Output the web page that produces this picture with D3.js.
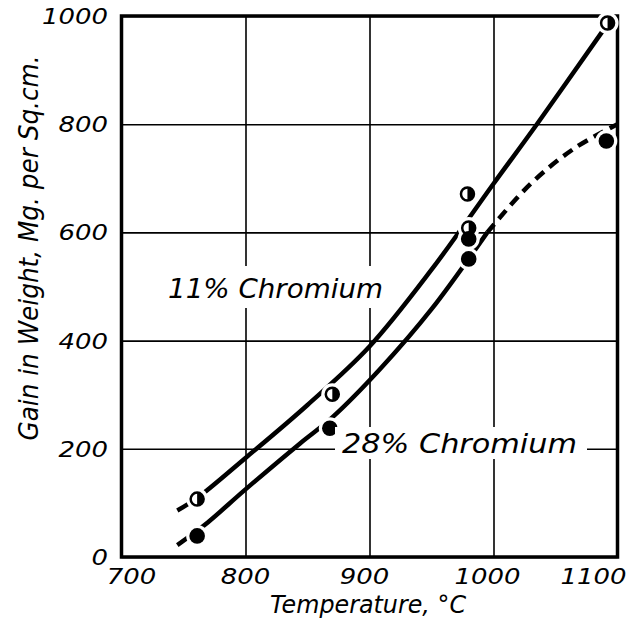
<!DOCTYPE html>
<html>
<head>
<meta charset="utf-8">
<script src="https://cdn.jsdelivr.net/npm/d3@7"></script>
<style>
  body { margin: 0; background: #fff; }
  text { font-family: "DejaVu Sans", sans-serif; font-style: italic; fill: #000; }
</style>
</head>
<body>
<div id="chart"></div>
<script>

var xTicks = [700, 800, 900, 1000, 1100];
var yTicks = [0, 200, 400, 600, 800, 1000];

// measured points, 11% chromium (half filled)
var temp11 = [761, 870, 979, 980, 1092];
var gain11 = [107, 301, 671, 608, 987];
// measured points, 28% chromium (solid)
var temp28 = [761, 868, 980, 980, 1091];
var gain28 = [39, 238, 588, 551, 769];

// fitted curves
var curve11Temp = [745, 761, 800, 850, 900, 950, 1000, 1035, 1088];
var curve11Gain = [86, 109, 183, 281, 389, 531, 690, 800, 972];
var curve28Temp = [745, 767, 800, 844, 870, 908, 950, 995];
var curve28Gain = [22, 59, 125, 210, 258, 346, 458, 600];
var dash28Temp = [995, 1030, 1065, 1100];
var dash28Gain = [600, 690, 755, 800];

plot_chart("#chart");

function plot_chart(htmlObjectId) {
    var width = 628;
    var height = 618;

    var x = d3.scaleLinear().domain([700, 1100]).range([121.5, 617.5]);
    var y = d3.scaleLinear().domain([0, 1000]).range([557, 16]);

    var canvas = d3.select(htmlObjectId)
                    .append("svg")
                    .attr("width", width)
                    .attr("height", height);

    canvas.append("rect").attr("width", width).attr("height", height).attr("fill", "#fff");

    // grid via axes
    var xAxis = d3.axisBottom(x).tickValues(xTicks).tickSize(-(557 - 16)).tickFormat("");
    var yAxis = d3.axisLeft(y).tickValues(yTicks).tickSize(-(617.5 - 121.5)).tickFormat("");

    var gx = canvas.append("g").attr("transform", "translate(0,557)").call(xAxis);
    var gy = canvas.append("g").attr("transform", "translate(121.5,0)").call(yAxis);
    gx.select(".domain").remove();
    gy.select(".domain").remove();
    canvas.selectAll(".tick line").attr("stroke", "#000").attr("stroke-width", 1.6);

    // frame
    canvas.append("rect")
          .attr("x", x(700)).attr("y", y(1000))
          .attr("width", x(1100) - x(700)).attr("height", y(0) - y(1000))
          .attr("fill", "none").attr("stroke", "#000").attr("stroke-width", 3.5);

    var line = d3.line().curve(d3.curveCatmullRom)
                 .x(function(d) { return x(d[0]); })
                 .y(function(d) { return y(d[1]); });

    canvas.append("path")
          .attr("d", line(d3.zip(curve11Temp, curve11Gain)))
          .attr("fill", "none").attr("stroke", "#000").attr("stroke-width", 4.5);
    canvas.append("path")
          .attr("d", line(d3.zip(curve28Temp, curve28Gain)))
          .attr("fill", "none").attr("stroke", "#000").attr("stroke-width", 4.5);
    canvas.append("path")
          .attr("d", line(d3.zip(dash28Temp, dash28Gain)))
          .attr("fill", "none").attr("stroke", "#000").attr("stroke-width", 4.5)
          .attr("stroke-dasharray", "11,7");

    // white gaps round the markers
    var all = d3.zip(temp11, gain11).concat(d3.zip(temp28, gain28));
    canvas.selectAll("circle.halo")
          .data(all)
          .enter()
            .append("circle")
            .attr("class", "halo")
            .attr("cx", function(d) { return x(d[0]); })
            .attr("cy", function(d) { return y(d[1]); })
            .attr("r", 11)
            .attr("fill", "#fff");

    var half = canvas.selectAll("g.half")
          .data(d3.zip(temp11, gain11))
          .enter()
            .append("g")
            .attr("class", "half")
            .attr("transform", function(d) { return "translate(" + x(d[0]) + "," + y(d[1]) + ")"; });
    half.append("circle").attr("r", 6.5).attr("fill", "#fff").attr("stroke", "#000").attr("stroke-width", 2.5);
    half.append("path").attr("d", "M0,-6.5A6.5,6.5 0 0 1 0,6.5Z").attr("fill", "#000");

    canvas.selectAll("circle.full")
          .data(d3.zip(temp28, gain28))
          .enter()
            .append("circle")
            .attr("class", "full")
            .attr("cx", function(d) { return x(d[0]); })
            .attr("cy", function(d) { return y(d[1]); })
            .attr("r", 7.8)
            .attr("fill", "#000");

    // tick labels
    var xShift = [10, 0, -5, -6, -24];
    canvas.selectAll("text.xt")
          .data(xTicks)
          .enter()
            .append("text")
            .attr("class", "xt")
            .attr("x", function(d, i) { return x(d) + xShift[i]; })
            .attr("y", 584)
            .attr("text-anchor", "middle")
            .attr("font-size", 21)
            .attr("textLength", function(d) { return String(d).length * 16.5; })
            .attr("lengthAdjust", "spacingAndGlyphs")
            .text(function(d) { return d; });

    canvas.selectAll("text.yt")
          .data(yTicks)
          .enter()
            .append("text")
            .attr("class", "yt")
            .attr("x", 108)
            .attr("y", function(d) { return y(d) + 8; })
            .attr("text-anchor", "end")
            .attr("font-size", 21)
            .attr("textLength", function(d) { return String(d).length * 16.5; })
            .attr("lengthAdjust", "spacingAndGlyphs")
            .text(function(d) { return d; });

    // axis titles
    canvas.append("text")
          .attr("x", 368).attr("y", 613)
          .attr("text-anchor", "middle")
          .attr("font-size", 24)
          .attr("textLength", 196)
          .attr("lengthAdjust", "spacingAndGlyphs")
          .text("Temperature, °C");

    canvas.append("text")
          .attr("transform", "translate(38,248) rotate(-90)")
          .attr("text-anchor", "middle")
          .attr("font-size", 26)
          .attr("textLength", 385)
          .attr("lengthAdjust", "spacingAndGlyphs")
          .text("Gain in Weight, Mg. per Sq.cm.");

    // curve labels with white backing
    label(canvas, "11% Chromium", 168, 298, 215, 165, 266, 222, 42);
    label(canvas, "28% Chromium", 342, 453, 235, 335, 427, 252, 32);
}

function label(canvas, txt, lx, ly, len, bx, by, bw, bh) {
    canvas.append("rect").attr("x", bx).attr("y", by).attr("width", bw).attr("height", bh).attr("fill", "#fff");
    canvas.append("text")
          .attr("x", lx).attr("y", ly)
          .attr("font-size", 26)
          .attr("textLength", len)
          .attr("lengthAdjust", "spacingAndGlyphs")
          .text(txt);
}
</script>
</body>
</html>
